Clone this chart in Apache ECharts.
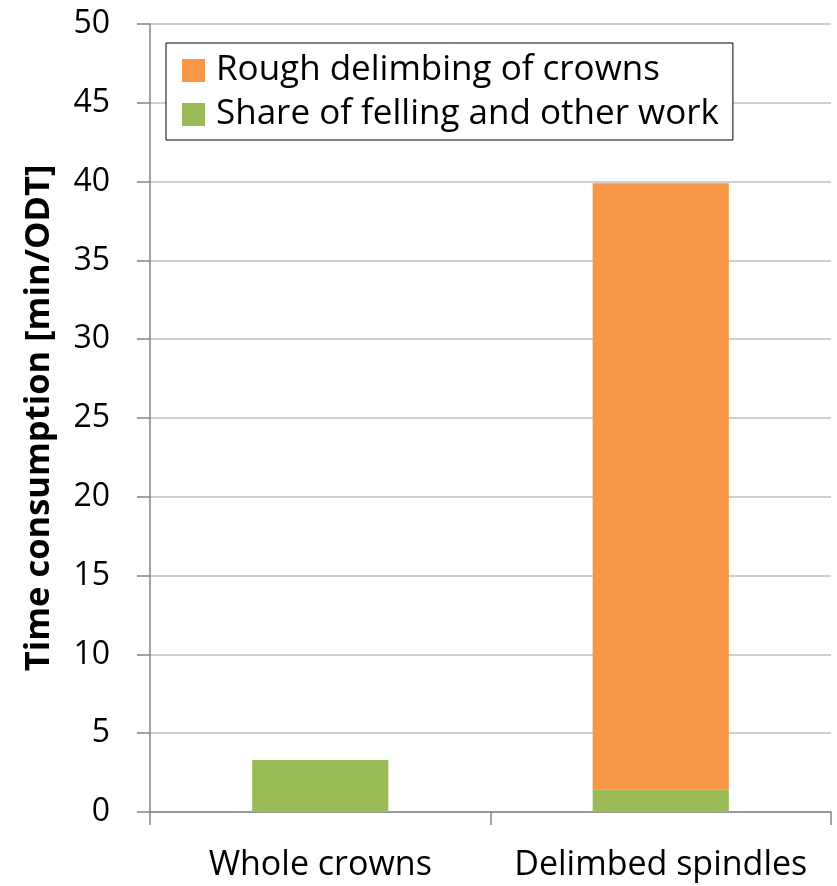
<!DOCTYPE html>
<html>
<head>
<meta charset="utf-8">
<script src="https://cdn.jsdelivr.net/npm/echarts@6/dist/echarts.min.js"></script>
<style>
  html, body { margin: 0; padding: 0; background: #fff; }
  #chart { width: 837px; height: 886px; }
</style>
</head>
<body>
<div id="chart"></div>
<script>
// Time consumption per oven-dry tonne for two assortments
const categories = ['Whole crowns', 'Delimbed spindles'];
const fellingShare = [3.3, 1.44];      // Share of felling and other work
const roughDelimbing = [0, 38.45];     // Rough delimbing of crowns
const yTicks = { min: 0, max: 50, interval: 5 };

const FONT = 'Open Sans';
const chart = echarts.init(document.getElementById('chart'));

chart.setOption({
  animation: false,
  backgroundColor: '#ffffff',
  textStyle: { fontFamily: FONT },
  grid: { left: 150, right: 6, top: 24, bottom: 74, containLabel: false },
  legend: {
    left: 166,
    top: 43,
    orient: 'vertical',
    data: ['Rough delimbing of crowns', 'Share of felling and other work'],
    itemWidth: 23,
    itemHeight: 23,
    itemGap: 9,
    padding: [10, 14, 8, 16],
    borderColor: '#000000',
    borderWidth: 1,
    backgroundColor: '#ffffff',
    icon: 'rect',
    textStyle: { fontFamily: FONT, fontSize: 35, lineHeight: 34, color: '#000000', padding: [0, 0, 0, 6] }
  },
  xAxis: {
    type: 'category',
    data: categories,
    boundaryGap: true,
    axisLine: { lineStyle: { color: '#868686', width: 1.5 } },
    axisTick: { show: true, interval: 0, length: 13, lineStyle: { color: '#868686', width: 1.5 } },
    axisLabel: { interval: 0, hideOverlap: false, fontFamily: FONT, fontSize: 34, color: '#000000', margin: 36 }
  },
  yAxis: {
    type: 'value',
    min: yTicks.min,
    max: yTicks.max,
    interval: yTicks.interval,
    name: 'Time consumption [min/ODT]',
    nameLocation: 'middle',
    nameGap: 93,
    nameTextStyle: { fontFamily: FONT, fontSize: 34.5, fontWeight: 'bold', color: '#000000' },
    axisLine: { show: true, lineStyle: { color: '#868686', width: 1.5 } },
    axisTick: { show: true, length: 13, lineStyle: { color: '#868686', width: 1.5 } },
    axisLabel: { fontFamily: FONT, fontSize: 32, color: '#000000', margin: 40 },
    splitLine: { show: true, lineStyle: { color: '#bfbfbf', width: 1.5 } }
  },
  series: [
    {
      name: 'Share of felling and other work',
      type: 'bar',
      stack: 'total',
      data: fellingShare,
      barWidth: '40%',
      itemStyle: { color: '#9BBB59' }
    },
    {
      name: 'Rough delimbing of crowns',
      type: 'bar',
      stack: 'total',
      data: roughDelimbing,
      barWidth: '40%',
      itemStyle: { color: '#F79646' }
    }
  ]
});
</script>
</body>
</html>
